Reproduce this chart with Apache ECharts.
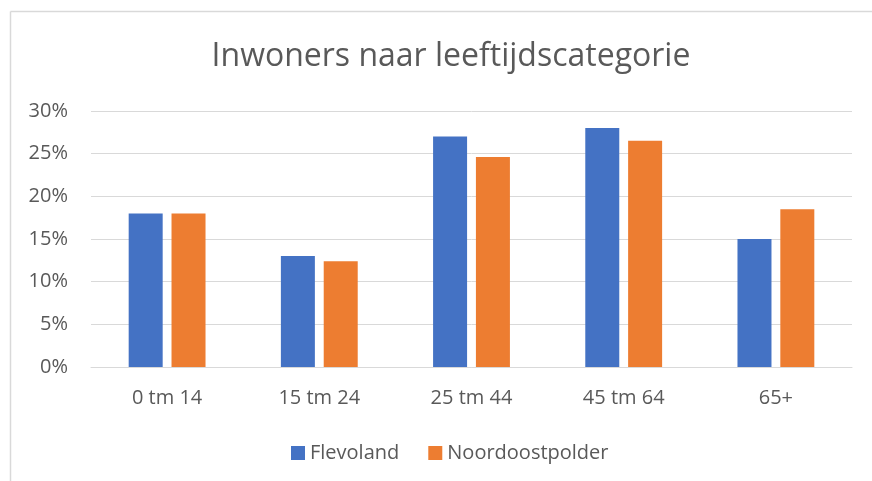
<!DOCTYPE html>
<html>
<head>
<meta charset="utf-8">
<script src="https://cdn.jsdelivr.net/npm/echarts@6/dist/echarts.min.js"></script>
<style>
  html, body { margin: 0; padding: 0; background: #fff; }
  #chart { width: 872px; height: 481px; }
</style>
</head>
<body>
<div id="chart"></div>
<script>
// leeftijdscategorieen
var categories = ["0 tm 14", "15 tm 24", "25 tm 44", "45 tm 64", "65+"];
// percentage inwoners
var flevoland = [18, 13, 27, 28, 15];
var noordoostpolder = [18, 12.4, 24.6, 26.5, 18.5];
var seriesNames = ["Flevoland", "Noordoostpolder"];

var textColor = "#595959";
var lineColor = "#D9D9D9";
var font = "Open Sans";

var chart = echarts.init(document.getElementById("chart"));
chart.setOption({
  animation: false,
  color: ["#4472C4", "#ED7D31"],
  title: {
    text: "Inwoners naar leeftijdscategorie",
    left: 446,
    top: 36,
    textAlign: "center",
    textStyle: {
      fontFamily: font,
      fontSize: 32,
      fontWeight: "normal",
      color: textColor
    }
  },
  legend: {
    data: seriesNames,
    left: 286,
    top: 438,
    itemWidth: 14,
    itemHeight: 14,
    itemGap: 29,
    icon: "rect",
    textStyle: { fontFamily: font, fontSize: 20, color: textColor }
  },
  grid: { left: 91, right: 20, top: 111, bottom: 114 },
  xAxis: {
    type: "category",
    data: categories,
    axisTick: { show: false },
    axisLine: { lineStyle: { color: lineColor, width: 1 } },
    axisLabel: { fontFamily: font, fontSize: 20, color: textColor, margin: 21 }
  },
  yAxis: {
    type: "value",
    min: 0,
    max: 30,
    interval: 5,
    axisLine: { show: false },
    axisTick: { show: false },
    splitLine: { lineStyle: { color: lineColor, width: 1 } },
    axisLabel: {
      fontFamily: font,
      fontSize: 20,
      color: textColor,
      margin: 23,
      formatter: "{value}%"
    }
  },
  series: [
    {
      name: seriesNames[0],
      type: "bar",
      data: flevoland,
      barWidth: 34,
      barGap: "26%"
    },
    {
      name: seriesNames[1],
      type: "bar",
      data: noordoostpolder,
      barWidth: 34,
      barGap: "26%"
    }
  ],
  graphic: [
    {
      type: "line",
      shape: { x1: 10.5, y1: 11.5, x2: 10.5, y2: 481 },
      style: { stroke: lineColor, lineWidth: 1.5 }
    },
    {
      type: "line",
      shape: { x1: 10.5, y1: 11.5, x2: 872, y2: 11.5 },
      style: { stroke: lineColor, lineWidth: 1.5 }
    }
  ]
});
</script>
</body>
</html>
